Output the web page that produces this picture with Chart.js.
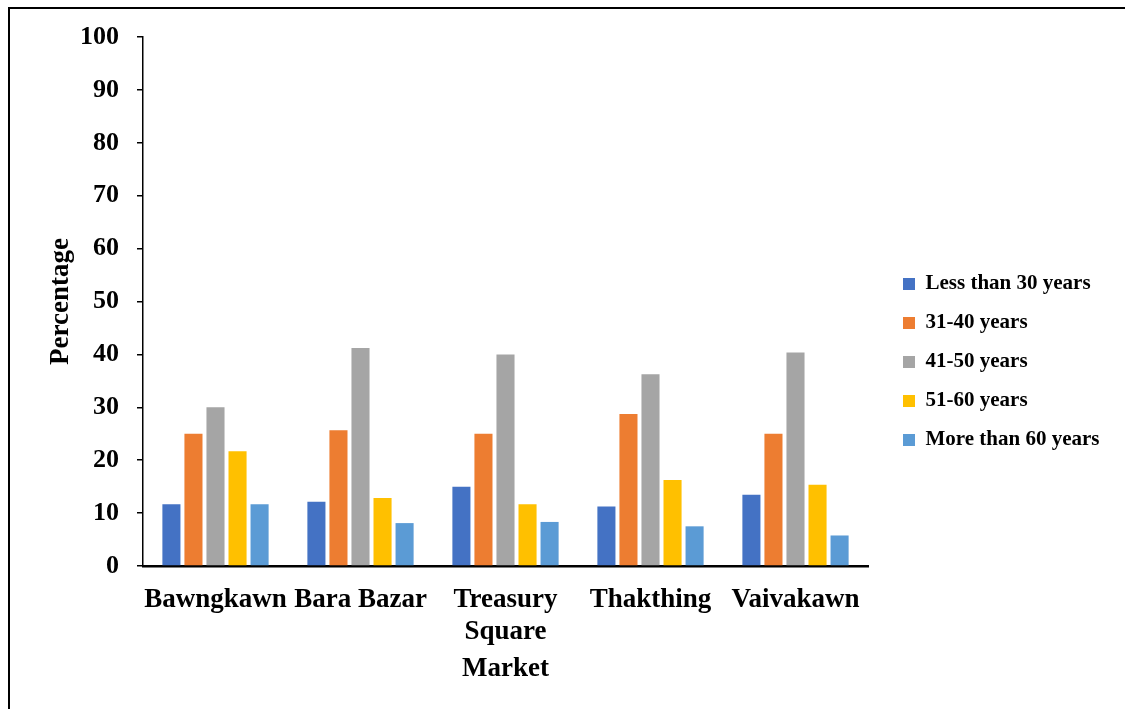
<!DOCTYPE html>
<html>
<head>
<meta charset="utf-8">
<script src="https://cdn.jsdelivr.net/npm/chart.js@4.4.1/dist/chart.umd.min.js"></script>
<style>
  html, body { margin: 0; padding: 0; background: #ffffff; overflow: hidden; }
  #frame {
    position: absolute; left: 8px; top: 7px; width: 1300px; height: 900px;
    border-top: 2px solid #000; border-left: 2px solid #000;
  }
  #wrap { position: absolute; left: 0; top: 0; width: 1125px; height: 709px; }
</style>
</head>
<body>
<div id="frame"></div>
<div id="wrap"><canvas id="chart" width="1125" height="709"></canvas></div>
<script>
// Markets surveyed
const markets = ['Bawngkawn', 'Bara Bazar', ['Treasury', 'Square'], 'Thakthing', 'Vaivakawn'];

// Share of respondents (%) in each age group, per market
const lessThan30 = [11.67, 12.16, 15.00, 11.25, 13.46];
const age31to40  = [25.00, 25.68, 25.00, 28.75, 25.00];
const age41to50  = [30.00, 41.22, 40.00, 36.25, 40.38];
const age51to60  = [21.67, 12.84, 11.67, 16.25, 15.38];
const moreThan60 = [11.67, 8.11, 8.33, 7.50, 5.77];

const seriesNames = ['Less than 30 years', '31-40 years', '41-50 years', '51-60 years', 'More than 60 years'];
const seriesColors = ['#4472C4', '#ED7D31', '#A5A5A5', '#FFC000', '#5B9BD5'];
const seriesValues = [lessThan30, age31to40, age41to50, age51to60, moreThan60];

const FONT = '"Liberation Serif", "Times New Roman", serif';

// Keeps the legend column a fixed width and nudges it beside the plot
const legendPlacement = {
  id: 'legendPlacement',
  beforeLayout(chart) {
    const lg = chart.legend;
    if (lg && !lg._fixedWidth) {
      const fit = lg.fit.bind(lg);
      lg.fit = function () { fit(); this.width = 257; };
      lg._fixedWidth = true;
    }
  },
  afterLayout(chart) {
    const lg = chart.legend;
    if (lg) {
      lg.left += 17; lg.right += 17;
      lg.top -= 11; lg.bottom -= 11;
    }
  }
};

new Chart(document.getElementById('chart'), {
  type: 'bar',
  data: {
    labels: markets,
    datasets: seriesNames.map((name, i) => ({
      label: name,
      data: seriesValues[i],
      backgroundColor: seriesColors[i],
      borderWidth: 0,
      categoryPercentage: 0.76,
      barPercentage: 0.82
    }))
  },
  options: {
    responsive: false,
    animation: false,
    layout: { padding: { left: 0, top: 37, right: 0, bottom: 0 } },
    plugins: {
      tooltip: { enabled: false },
      legend: {
        position: 'right',
        labels: {
          boxWidth: 12,
          boxHeight: 12,
          padding: 18,
          color: '#000',
          font: { family: FONT, size: 21, weight: 'bold' }
        }
      }
    },
    scales: {
      x: {
        grid: { display: false, drawTicks: false },
        border: { display: true, color: '#000', width: 2.5 },
        ticks: {
          color: '#000',
          padding: 18,
          maxRotation: 0,
          autoSkip: false,
          font: { family: FONT, size: 27, weight: 'bold', lineHeight: 1.18 }
        },
        title: {
          display: true,
          text: 'Market',
          color: '#000',
          font: { family: FONT, size: 27, weight: 'bold' },
          padding: { top: 0, bottom: 24 }
        },
        afterFit(scale) { scale.height = 143; }
      },
      y: {
        min: 0,
        max: 100,
        grid: { display: true, drawOnChartArea: false, drawTicks: true, tickLength: 6, color: '#000', lineWidth: 1.5 },
        border: { display: true, color: '#000', width: 1.5 },
        ticks: {
          stepSize: 10,
          color: '#000',
          padding: 18,
          font: { family: FONT, size: 26, weight: 'bold' }
        },
        title: {
          display: true,
          text: 'Percentage',
          color: '#000',
          font: { family: FONT, size: 27, weight: 'bold' },
          padding: { top: 45, bottom: 0 }
        },
        afterFit(scale) { scale.width = 143; }
      }
    }
  },
  plugins: [legendPlacement]
});
</script>
</body>
</html>
